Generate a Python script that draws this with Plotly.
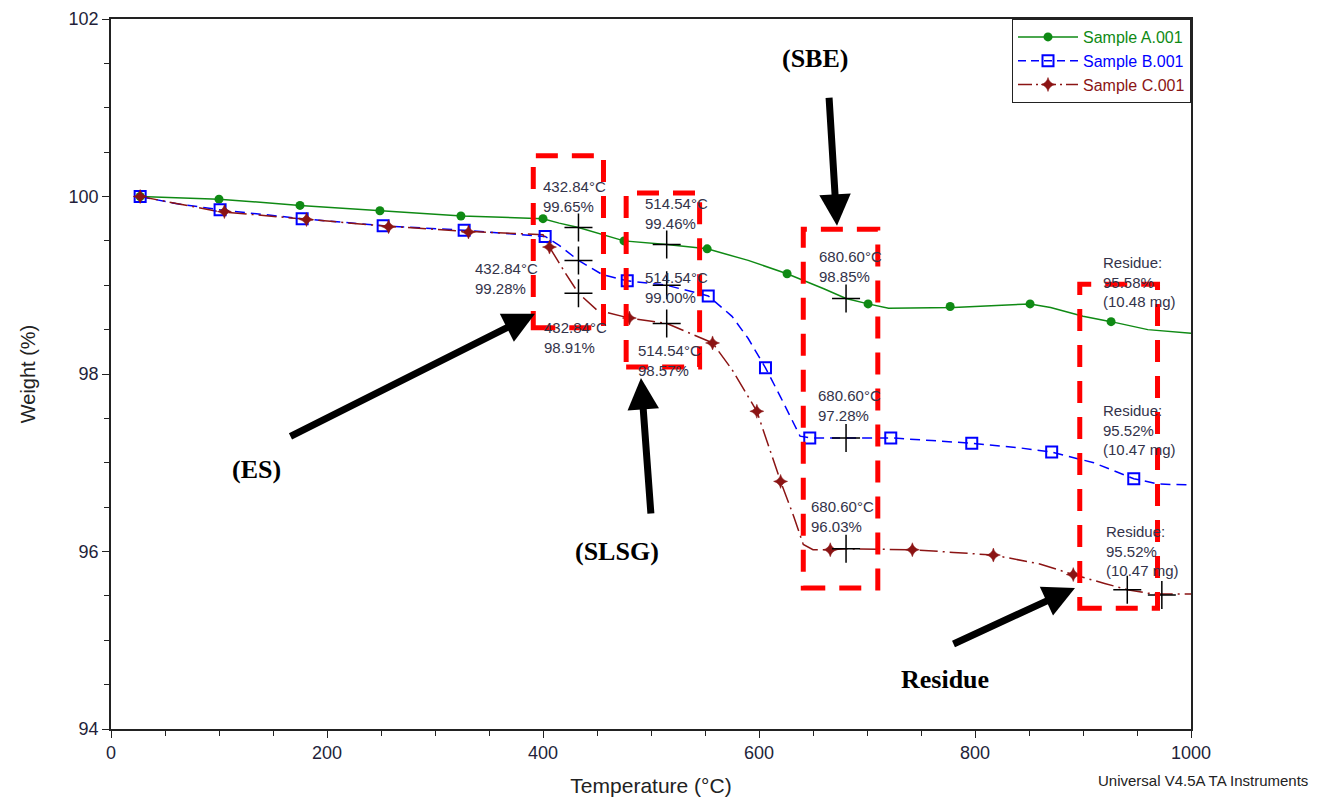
import plotly.graph_objects as go

# ---------------- data ----------------
# Sample A.001 (green) curve
a_temp = [27, 100, 175, 250, 325, 400, 415, 432.84, 460, 475, 514.54, 552, 590, 626, 660, 680.6, 701,
          720, 780, 830, 851, 870, 900, 926, 960, 1000]
a_wt = [100.0, 99.97, 99.90, 99.84, 99.78, 99.75, 99.70, 99.65, 99.55, 99.50, 99.46, 99.41, 99.28, 99.13,
        98.96, 98.85, 98.79, 98.74, 98.75, 98.78, 98.79, 98.75, 98.65, 98.59, 98.50, 98.46]
a_mk_temp = [27, 100, 175, 249, 324, 400, 475, 552, 626, 701, 777, 851, 926]
a_mk_wt = [100.0, 99.97, 99.90, 99.84, 99.78, 99.75, 99.50, 99.41, 99.13, 98.79, 98.76, 98.79, 98.59]

# Sample B.001 (blue) curve
b_temp = [27, 60, 101, 177, 252, 327, 402, 415, 432.84, 455, 478, 514.54, 553, 575, 590, 606, 620, 638,
          647, 680.6, 722, 760, 797, 840, 871, 910, 947, 970, 1000]
b_wt = [100.0, 99.92, 99.85, 99.75, 99.67, 99.62, 99.55, 99.45, 99.28, 99.12, 99.05, 99.00, 98.88, 98.65,
        98.40, 98.07, 97.74, 97.30, 97.28, 97.28, 97.28, 97.25, 97.22, 97.17, 97.12, 97.00, 96.82, 96.76, 96.75]
b_mk_temp = [27, 101, 177, 252, 327, 402, 478, 553, 606, 647, 722, 797, 871, 947]
b_mk_wt = [100.0, 99.85, 99.75, 99.67, 99.62, 99.55, 99.05, 98.88, 98.07, 97.28, 97.28, 97.22, 97.12, 96.82]

# Sample C.001 (dark red) curve
c_temp = [27, 60, 100, 175, 250, 325, 400, 406, 420, 432.84, 450, 480, 514.54, 557, 575, 598, 610, 620,
          632, 641, 650, 666, 680.6, 742, 780, 817, 860, 891, 920, 941, 960, 973, 1000]
c_wt = [100.0, 99.92, 99.83, 99.75, 99.67, 99.61, 99.57, 99.43, 99.15, 98.91, 98.72, 98.63, 98.57, 98.35,
        98.05, 97.58, 97.15, 96.79, 96.40, 96.08, 96.02, 96.02, 96.03, 96.02, 95.99, 95.96, 95.86, 95.74,
        95.64, 95.57, 95.53, 95.52, 95.52]
c_mk_temp = [27, 105, 181, 257, 331, 406, 480, 557, 598, 620, 666, 742, 817, 891]
c_mk_wt = [100.0, 99.83, 99.74, 99.66, 99.60, 99.43, 98.63, 98.35, 97.58, 96.79, 96.02, 96.02, 95.96, 95.74]

# Analysis cursors (black crosses)
cur_temp = [432.84, 432.84, 432.84, 514.54, 514.54, 514.54, 680.6, 680.6, 680.6, 941, 973]
cur_wt = [99.65, 99.28, 98.91, 99.46, 99.00, 98.57, 98.85, 97.28, 96.03, 95.57, 95.51]

# Label texts
step_labels = ["432.84°C<br>99.65%", "432.84°C<br>99.28%", "432.84°C<br>98.91%",
               "514.54°C<br>99.46%", "514.54°C<br>99.00%", "514.54°C<br>98.57%",
               "680.60°C<br>98.85%", "680.60°C<br>97.28%", "680.60°C<br>96.03%",
               "Residue:<br>95.58%<br>(10.48 mg)", "Residue:<br>95.52%<br>(10.47 mg)",
               "Residue:<br>95.52%<br>(10.47 mg)"]
region_labels = ["(ES)", "(SLSG)", "(SBE)", "Residue"]
series_names = ["Sample A.001", "Sample B.001", "Sample C.001"]

# ---------------- styling / layout ----------------
GREEN = "#0f8a14"
BLUE = "#0000ff"
RED = "#8b1414"
TXT = "#33334a"

fig = go.Figure()

# curves
fig.add_trace(go.Scatter(x=a_temp, y=a_wt, mode="lines", line=dict(color=GREEN, width=1.5),
                         showlegend=False, hoverinfo="skip"))
fig.add_trace(go.Scatter(x=b_temp, y=b_wt, mode="lines", line=dict(color=BLUE, width=1.5, dash="10px,6px"),
                         showlegend=False, hoverinfo="skip"))
fig.add_trace(go.Scatter(x=c_temp, y=c_wt, mode="lines",
                         line=dict(color=RED, width=1.5, dash="18px,5px,2px,5px"),
                         showlegend=False, hoverinfo="skip"))

# markers
mA = dict(symbol="circle", size=9, color=GREEN)
mB = dict(symbol="square-open", size=11, color=BLUE, line=dict(width=2, color=BLUE))
mC = dict(symbol="star-diamond", size=10, color=RED, line=dict(width=0.5, color=RED))
fig.add_trace(go.Scatter(x=a_mk_temp, y=a_mk_wt, mode="markers", marker=mA, showlegend=False))
fig.add_trace(go.Scatter(x=b_mk_temp, y=b_mk_wt, mode="markers", marker=mB, showlegend=False))
fig.add_trace(go.Scatter(x=c_mk_temp, y=c_mk_wt, mode="markers", marker=mC, showlegend=False))

# cursors
fig.add_trace(go.Scatter(x=cur_temp, y=cur_wt, mode="markers", showlegend=False,
                         marker=dict(symbol="cross-thin", size=20, line=dict(width=1.5, color="black"))))

# legend entries
fig.add_trace(go.Scatter(x=[None], y=[None], mode="lines+markers", marker=mA,
                         line=dict(color=GREEN, width=1.5),
                         name=f"<span style='color:{GREEN}'>{series_names[0]}</span>"))
fig.add_trace(go.Scatter(x=[None], y=[None], mode="lines+markers", marker=mB,
                         line=dict(color=BLUE, width=1.5, dash="8px,5px"),
                         name=f"<span style='color:{BLUE}'>{series_names[1]}</span>"))
fig.add_trace(go.Scatter(x=[None], y=[None], mode="lines+markers", marker=mC,
                         line=dict(color=RED, width=1.5, dash="14px,4px,2px,4px"),
                         name=f"<span style='color:{RED}'>{series_names[2]}</span>"))

# red dashed boxes
boxes = [(391, 456, 98.52, 100.46), (477, 545, 98.08, 100.04), (641, 710, 95.59, 99.63), (897, 969, 95.36, 99.01)]
for x0, x1, y0, y1 in boxes:
    fig.add_shape(type="rect", xref="x", yref="y", x0=x0, x1=x1, y0=y0, y1=y1, layer="above",
                  line=dict(color="#ff0000", width=5, dash="22px,14px"))

# step labels (positions top-left)
label_pos = [(398.1, 100.23), (335.2, 99.31), (399.1, 98.64), (492.6, 100.04), (492.6, 99.21), (486.1, 98.38),
             (653.7, 99.44), (652.8, 97.88), (646.3, 96.63), (916.7, 99.37), (916.7, 97.71), (919.4, 96.34)]
for txt, (lx, ly) in zip(step_labels, label_pos):
    fig.add_annotation(x=lx, y=ly, xref="x", yref="y", text=txt, showarrow=False, xanchor="left",
                       yanchor="top", align="left", font=dict(family="Arial, Liberation Sans", size=15, color=TXT))

# arrows (head x,y ; tail ax,ay)
arrows = [((392.6, 98.68), (164.8, 97.29)), ((490.7, 97.955), (500.0, 96.41)),
          ((672.2, 99.67), (664.8, 101.13)), ((892.6, 95.59), (778.7, 94.95))]
for (hx, hy), (tx, ty) in arrows:
    fig.add_annotation(x=hx, y=hy, ax=tx, ay=ty, xref="x", yref="y", axref="x", ayref="y", text="",
                       showarrow=True, arrowhead=2, arrowsize=0.9, arrowwidth=7, arrowcolor="black")

region_pos = [(134.3, 96.92), (468.5, 96.0), (651.9, 101.56), (772.2, 94.56)]
for txt, (rx, ry) in zip(region_labels, region_pos):
    fig.add_annotation(x=rx, y=ry, xref="x", yref="y", text=f"<b>{txt}</b>", showarrow=False,
                       font=dict(family="Liberation Serif, Times New Roman", size=26, color="black"))

fig.add_annotation(x=1.11, y=-0.073, xref="paper", yref="paper", text="Universal V4.5A TA Instruments",
                   showarrow=False, xanchor="right", yanchor="middle",
                   font=dict(family="Arial, Liberation Sans", size=15, color="#222"))

axis_common = dict(showline=True, linecolor="#222", linewidth=1.5, mirror=True, showgrid=False, zeroline=False,
                   ticks="outside", ticklen=7, tickwidth=1, tickcolor="#222", automargin=False,
                   tickfont=dict(family="Arial, Liberation Sans", size=18, color="#231f3a"))

fig.update_layout(
    width=1315, height=790,
    margin=dict(l=103, r=132, t=11, b=69, autoexpand=False),
    paper_bgcolor="white", plot_bgcolor="white",
    xaxis=dict(range=[0, 1000], dtick=200, tick0=0,
               minor=dict(dtick=50, ticks="outside", ticklen=5, tickcolor="#222", showgrid=False),
               title=dict(text="Temperature (°C)", font=dict(family="Arial, Liberation Sans", size=21, color="#222"),
                          standoff=16),
               **axis_common),
    yaxis=dict(range=[94, 102], dtick=2, tick0=94,
               minor=dict(dtick=0.5, ticks="outside", ticklen=5, tickcolor="#222", showgrid=False),
               title=dict(text="Weight (%)", font=dict(family="Arial, Liberation Sans", size=20, color="#222"),
                          standoff=28),
               **axis_common),
    legend=dict(x=1, y=1, xanchor="right", yanchor="top", bgcolor="white", bordercolor="#222", borderwidth=1,
                font=dict(family="Arial, Liberation Sans", size=16), tracegroupgap=0, itemwidth=60),
)

fig.write_html("out.html")
